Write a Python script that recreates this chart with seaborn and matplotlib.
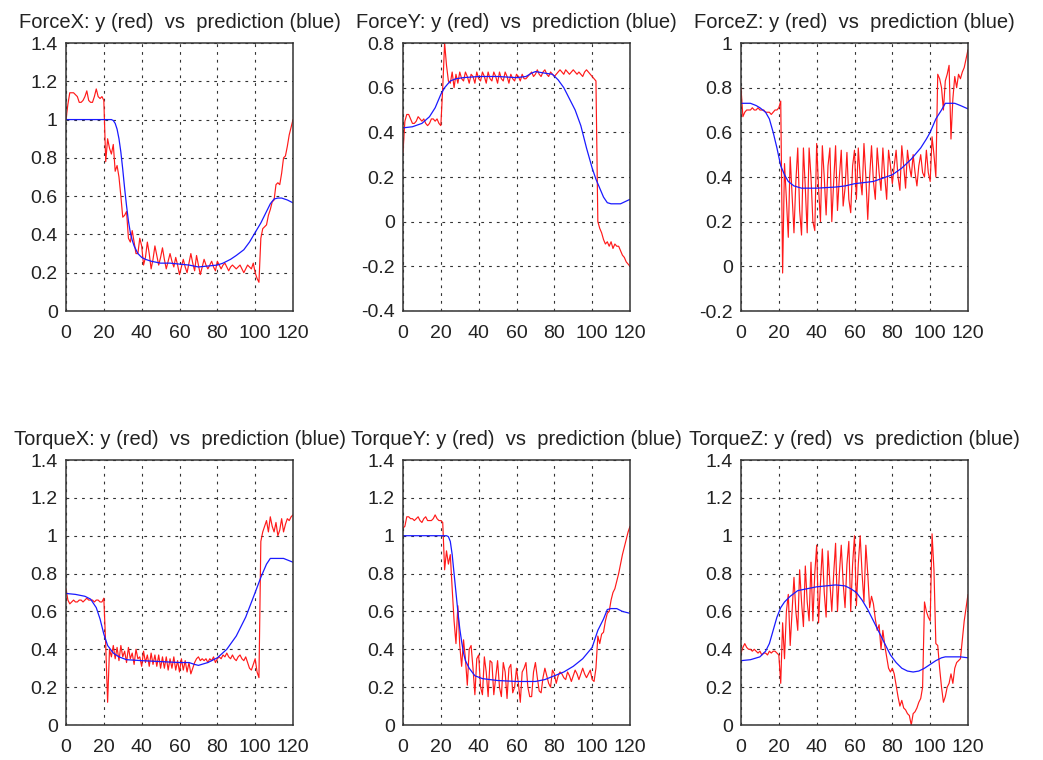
import numpy as np
import pandas as pd
import matplotlib
matplotlib.use("Agg")
import matplotlib.pyplot as plt
from matplotlib.ticker import FuncFormatter
import seaborn as sns

sns.set_theme(style="white")
plt.rcParams["font.family"] = ["Liberation Sans", "DejaVu Sans"]

# sample index shared by every measured signal
steps = list(range(121))

# ---- measured signals (red) ----
force_x_y = [1.00, 1.08, 1.14, 1.14, 1.14, 1.13, 1.12, 1.09, 1.09, 1.10,
             1.12, 1.15, 1.10, 1.09, 1.09, 1.12, 1.16, 1.12, 1.11, 1.12,
             1.10, 0.78, 0.90, 0.85, 0.82, 0.87, 0.73, 0.76, 0.70, 0.60,
             0.49, 0.50, 0.52, 0.38, 0.36, 0.42, 0.36, 0.30, 0.30, 0.38,
             0.34, 0.24, 0.28, 0.36, 0.30, 0.22, 0.27, 0.34, 0.29, 0.24,
             0.28, 0.33, 0.27, 0.22, 0.26, 0.30, 0.26, 0.23, 0.28, 0.24,
             0.19, 0.23, 0.27, 0.23, 0.20, 0.25, 0.30, 0.25, 0.21, 0.29,
             0.24, 0.19, 0.23, 0.27, 0.24, 0.22, 0.24, 0.26, 0.23, 0.21,
             0.26, 0.24, 0.22, 0.24, 0.25, 0.23, 0.21, 0.23, 0.24, 0.23,
             0.22, 0.23, 0.24, 0.22, 0.20, 0.22, 0.24, 0.23, 0.22, 0.25,
             0.20, 0.17, 0.15, 0.38, 0.43, 0.44, 0.45, 0.50, 0.53, 0.57,
             0.58, 0.66, 0.67, 0.66, 0.72, 0.80, 0.81, 0.86, 0.92, 0.96,
             1.00]

force_y_y = [0.31, 0.45, 0.48, 0.48, 0.46, 0.44, 0.44, 0.45, 0.47, 0.46,
             0.45, 0.46, 0.44, 0.43, 0.44, 0.46, 0.46, 0.45, 0.46, 0.44,
             0.43, 0.60, 0.80, 0.70, 0.63, 0.62, 0.67, 0.60, 0.66, 0.62,
             0.67, 0.64, 0.63, 0.67, 0.65, 0.62, 0.66, 0.65, 0.62, 0.67,
             0.64, 0.63, 0.67, 0.65, 0.62, 0.67, 0.64, 0.63, 0.67, 0.65,
             0.62, 0.67, 0.64, 0.63, 0.67, 0.65, 0.62, 0.66, 0.64, 0.63,
             0.66, 0.65, 0.63, 0.66, 0.64, 0.64, 0.65, 0.66, 0.67, 0.65,
             0.66, 0.68, 0.66, 0.65, 0.67, 0.68, 0.66, 0.65, 0.67, 0.66,
             0.65, 0.66, 0.67, 0.68, 0.67, 0.66, 0.68, 0.67, 0.66, 0.67,
             0.68, 0.67, 0.66, 0.67, 0.66, 0.65, 0.67, 0.68, 0.67, 0.66,
             0.65, 0.64, 0.63, 0.00, -0.03, -0.05, -0.08, -0.10, -0.09, -0.11,
             -0.09, -0.12, -0.10, -0.11, -0.11, -0.13, -0.15, -0.16, -0.18, -0.19,
             -0.20]

force_z_y = [0.80, 0.67, 0.69, 0.70, 0.70, 0.70, 0.71, 0.70, 0.70, 0.71,
             0.70, 0.70, 0.70, 0.69, 0.69, 0.69, 0.68, 0.69, 0.70, 0.70,
             0.71, 0.74, -0.03, 0.46, 0.30, 0.13, 0.49, 0.32, 0.15, 0.38,
             0.53, 0.25, 0.14, 0.53, 0.35, 0.15, 0.53, 0.40, 0.20, 0.16,
             0.55, 0.35, 0.20, 0.54, 0.40, 0.23, 0.45, 0.53, 0.20, 0.38,
             0.54, 0.25, 0.40, 0.52, 0.27, 0.35, 0.51, 0.30, 0.24, 0.45,
             0.52, 0.30, 0.53, 0.40, 0.32, 0.55, 0.40, 0.21, 0.40, 0.54,
             0.38, 0.30, 0.53, 0.42, 0.34, 0.53, 0.40, 0.30, 0.52, 0.45,
             0.37, 0.45, 0.52, 0.40, 0.34, 0.54, 0.45, 0.35, 0.52, 0.45,
             0.40, 0.50, 0.42, 0.36, 0.45, 0.50, 0.42, 0.40, 0.52, 0.42,
             0.38, 0.58, 0.50, 0.40, 0.86, 0.84, 0.80, 0.70, 0.83, 0.86,
             0.90, 0.57, 0.75, 0.85, 0.80, 0.86, 0.84, 0.87, 0.89, 0.93,
             0.97]

torque_x_y = [0.72, 0.66, 0.64, 0.65, 0.66, 0.65, 0.65, 0.66, 0.66, 0.65,
              0.66, 0.67, 0.66, 0.66, 0.66, 0.65, 0.66, 0.66, 0.65, 0.65,
              0.67, 0.42, 0.12, 0.40, 0.36, 0.42, 0.35, 0.41, 0.34, 0.42,
              0.36, 0.39, 0.33, 0.41, 0.35, 0.38, 0.32, 0.40, 0.35, 0.36,
              0.31, 0.39, 0.33, 0.37, 0.31, 0.38, 0.32, 0.37, 0.31, 0.37,
              0.30, 0.36, 0.30, 0.36, 0.29, 0.35, 0.30, 0.36, 0.29, 0.34,
              0.28, 0.35, 0.29, 0.34, 0.28, 0.33, 0.27, 0.30, 0.33, 0.35,
              0.36, 0.34, 0.35, 0.34, 0.35, 0.33, 0.35, 0.34, 0.36, 0.33,
              0.35, 0.36, 0.35, 0.37, 0.36, 0.38, 0.36, 0.35, 0.37, 0.35,
              0.34, 0.36, 0.37, 0.35, 0.34, 0.36, 0.33, 0.30, 0.29, 0.32,
              0.35, 0.28, 0.25, 0.97, 1.02, 1.05, 1.08, 1.02, 1.10, 1.05,
              1.02, 1.07, 1.00, 1.03, 1.09, 1.02, 1.06, 1.09, 1.08, 1.10,
              1.11]

torque_y_y = [1.04, 1.05, 1.10, 1.10, 1.09, 1.09, 1.08, 1.09, 1.10, 1.08,
              1.07, 1.09, 1.10, 1.08, 1.08, 1.08, 1.09, 1.11, 1.09, 1.08,
              1.08, 1.07, 0.82, 0.92, 0.85, 0.90, 0.72, 0.55, 0.43, 0.63,
              0.42, 0.31, 0.45, 0.35, 0.21, 0.40, 0.42, 0.30, 0.16, 0.35,
              0.37, 0.20, 0.16, 0.36, 0.28, 0.15, 0.34, 0.33, 0.16, 0.25,
              0.34, 0.20, 0.15, 0.33, 0.28, 0.14, 0.30, 0.32, 0.17, 0.20,
              0.30, 0.22, 0.12, 0.28, 0.30, 0.33, 0.20, 0.15, 0.15, 0.28,
              0.33, 0.25, 0.18, 0.17, 0.25, 0.30, 0.26, 0.22, 0.20, 0.29,
              0.27, 0.22, 0.26, 0.28, 0.27, 0.25, 0.24, 0.28, 0.26, 0.23,
              0.26, 0.29, 0.27, 0.24, 0.27, 0.30, 0.27, 0.25, 0.27, 0.29,
              0.24, 0.23, 0.30, 0.47, 0.43, 0.48, 0.49, 0.55, 0.59, 0.60,
              0.66, 0.70, 0.72, 0.76, 0.80, 0.85, 0.90, 0.94, 0.98, 1.02,
              1.05]

torque_z_y = [0.38, 0.41, 0.43, 0.41, 0.40, 0.40, 0.39, 0.40, 0.39, 0.38,
              0.39, 0.37, 0.38, 0.38, 0.37, 0.39, 0.38, 0.39, 0.39, 0.38,
              0.37, 0.22, 0.54, 0.35, 0.60, 0.69, 0.42, 0.60, 0.78, 0.60,
              0.50, 0.82, 0.65, 0.52, 0.84, 0.65, 0.55, 0.86, 0.55, 0.80,
              0.95, 0.54, 0.75, 0.93, 0.70, 0.57, 0.92, 0.75, 0.60, 0.80,
              0.96, 0.60, 0.80, 0.95, 0.75, 0.62, 0.85, 0.97, 0.60, 0.85,
              1.00, 0.63, 0.85, 1.00, 0.80, 0.65, 0.95, 0.80, 0.62, 0.68,
              0.64, 0.56, 0.50, 0.53, 0.40, 0.50, 0.42, 0.36, 0.30, 0.28,
              0.30, 0.27, 0.21, 0.15, 0.10, 0.13, 0.09, 0.08, 0.06, 0.05,
              0.00, 0.06, 0.07, 0.09, 0.12, 0.14, 0.20, 0.65, 0.60, 0.57,
              0.55, 1.01, 0.82, 0.43, 0.42, 0.30, 0.20, 0.12, 0.15, 0.20,
              0.22, 0.27, 0.22, 0.30, 0.33, 0.34, 0.35, 0.45, 0.55, 0.62,
              0.69]

# ---- model predictions (blue) ----
force_x_px = [0, 10, 20, 24, 25, 26, 27, 28, 29, 30, 31, 32, 33, 34, 35, 36, 38, 40,
              42, 45, 50, 55, 60, 65, 70, 75, 80, 83, 87, 90, 94, 97, 100, 103,
              106, 108, 110, 112, 114, 117, 120]
force_x_p = [1.0, 1.0, 1.0, 1.0, 0.995, 0.98, 0.95, 0.90, 0.83, 0.74, 0.64, 0.55,
             0.47, 0.41, 0.37, 0.34, 0.30, 0.28, 0.27, 0.26, 0.25, 0.25, 0.245,
             0.24, 0.23, 0.235, 0.24, 0.25, 0.27, 0.29, 0.32, 0.36, 0.41, 0.46,
             0.52, 0.56, 0.585, 0.59, 0.59, 0.58, 0.565]

force_y_px = [0, 5, 10, 14, 17, 20, 22, 25, 28, 32, 40, 50, 60, 65, 68, 70, 75, 79,
              82, 85, 88, 91, 94, 97, 100, 102, 104, 106, 108, 110, 115, 120]
force_y_p = [0.42, 0.425, 0.44, 0.47, 0.51, 0.57, 0.60, 0.63, 0.64, 0.645, 0.65,
             0.65, 0.645, 0.65, 0.665, 0.672, 0.665, 0.66, 0.635, 0.60, 0.55,
             0.50, 0.43, 0.33, 0.24, 0.19, 0.15, 0.11, 0.085, 0.08, 0.08, 0.10]

force_z_px = [0, 5, 8, 10, 13, 15, 17, 19, 21, 23, 25, 28, 32, 40, 50, 55, 60, 65,
              70, 75, 80, 85, 90, 95, 98, 100, 103, 106, 108, 110, 113, 116, 120]
force_z_p = [0.73, 0.73, 0.72, 0.71, 0.69, 0.66, 0.60, 0.53, 0.45, 0.41, 0.38,
             0.36, 0.35, 0.35, 0.355, 0.36, 0.37, 0.375, 0.38, 0.395, 0.41, 0.44,
             0.48, 0.53, 0.57, 0.60, 0.66, 0.70, 0.73, 0.73, 0.73, 0.72, 0.705]

torque_x_px = [0, 5, 10, 13, 16, 18, 20, 22, 25, 28, 32, 40, 50, 60, 65, 68, 70,
               75, 80, 85, 90, 95, 100, 103, 106, 108, 112, 115, 120]
torque_x_p = [0.695, 0.69, 0.68, 0.665, 0.62, 0.56, 0.48, 0.42, 0.38, 0.36, 0.345,
              0.34, 0.335, 0.33, 0.33, 0.32, 0.315, 0.33, 0.355, 0.40, 0.47, 0.57,
              0.70, 0.78, 0.85, 0.88, 0.88, 0.88, 0.86]

torque_y_px = [0, 10, 20, 23, 24, 25, 26, 27, 28, 29, 30, 31, 32, 33, 35, 38, 42,
               50, 60, 70, 75, 80, 85, 90, 95, 100, 103, 106, 108, 110, 113, 116, 120]
torque_y_p = [1.0, 1.0, 1.0, 1.0, 0.995, 0.97, 0.90, 0.80, 0.70, 0.60, 0.51, 0.44,
              0.38, 0.34, 0.30, 0.26, 0.245, 0.235, 0.23, 0.23, 0.24, 0.26, 0.28,
              0.31, 0.35, 0.41, 0.50, 0.56, 0.61, 0.615, 0.615, 0.60, 0.59]

torque_z_px = [0, 5, 10, 13, 15, 17, 19, 21, 23, 26, 30, 35, 40, 45, 50, 55, 58,
               61, 64, 67, 70, 73, 76, 79, 82, 85, 88, 91, 94, 97, 100, 103, 106,
               108, 112, 116, 120]
torque_z_p = [0.34, 0.345, 0.36, 0.39, 0.43, 0.50, 0.57, 0.62, 0.65, 0.68, 0.71,
              0.72, 0.73, 0.735, 0.74, 0.735, 0.72, 0.70, 0.66, 0.61, 0.55, 0.49,
              0.43, 0.37, 0.33, 0.30, 0.285, 0.28, 0.285, 0.30, 0.32, 0.34, 0.355,
              0.36, 0.36, 0.36, 0.355]

names = ["ForceX", "ForceY", "ForceZ", "TorqueX", "TorqueY", "TorqueZ"]
measured = [force_x_y, force_y_y, force_z_y, torque_x_y, torque_y_y, torque_z_y]
pred_x = [force_x_px, force_y_px, force_z_px, torque_x_px, torque_y_px, torque_z_px]
pred_y = [force_x_p, force_y_p, force_z_p, torque_x_p, torque_y_p, torque_z_p]
y_limits = [(0, 1.4), (-0.4, 0.8), (-0.2, 1.0), (0, 1.4), (0, 1.4), (0, 1.4)]
x_ticks = [0, 20, 40, 60, 80, 100, 120]

W, H = 1043, 760
fig = plt.figure(figsize=(W / 100, H / 100), dpi=100, facecolor="white")

col_left = [66, 403, 741]
ax_w = 227
row_top = [43, 460]
row_h = [268, 265]

for i, name in enumerate(names):
    r, c = divmod(i, 3)
    left = col_left[c] / W
    bottom = 1 - (row_top[r] + row_h[r]) / H
    ax = fig.add_axes([left, bottom, ax_w / W, row_h[r] / H])
    ax.set_facecolor("white")

    red_df = pd.DataFrame({"step": steps, "value": measured[i]})
    blue_df = pd.DataFrame({"step": pred_x[i], "value": pred_y[i]})
    sns.lineplot(data=red_df, x="step", y="value", ax=ax, color="#ff1a1a",
                 linewidth=0.85, estimator=None, sort=False)
    sns.lineplot(data=blue_df, x="step", y="value", ax=ax, color="#1a1aff",
                 linewidth=0.9, estimator=None, sort=False)

    lo, hi = y_limits[i]
    ax.set_xlim(0, 120)
    ax.set_ylim(lo, hi)
    ax.set_xticks(x_ticks)
    ax.set_yticks(np.round(np.arange(lo, hi + 0.01, 0.2), 1))
    ax.yaxis.set_major_formatter(FuncFormatter(lambda v, p: f"{v:g}"))
    ax.xaxis.set_major_formatter(FuncFormatter(lambda v, p: f"{v:g}"))
    ax.set_xlabel("")
    ax.set_ylabel("")
    ax.tick_params(axis="both", length=0, labelsize=14, colors="#222222")
    ax.tick_params(axis="x", pad=10)
    ax.tick_params(axis="y", pad=6)
    ax.grid(True, color="#333333", linestyle=(0, (2.5, 4.5)), linewidth=0.8)
    for s in ax.spines.values():
        s.set_color("#333333")
        s.set_linewidth(1.1)
    ax.set_title(f"{name}: y (red)  vs  prediction (blue)", fontsize=14.5,
                 color="#222222", pad=11)

fig.savefig("out.png", dpi=100, facecolor="white")
